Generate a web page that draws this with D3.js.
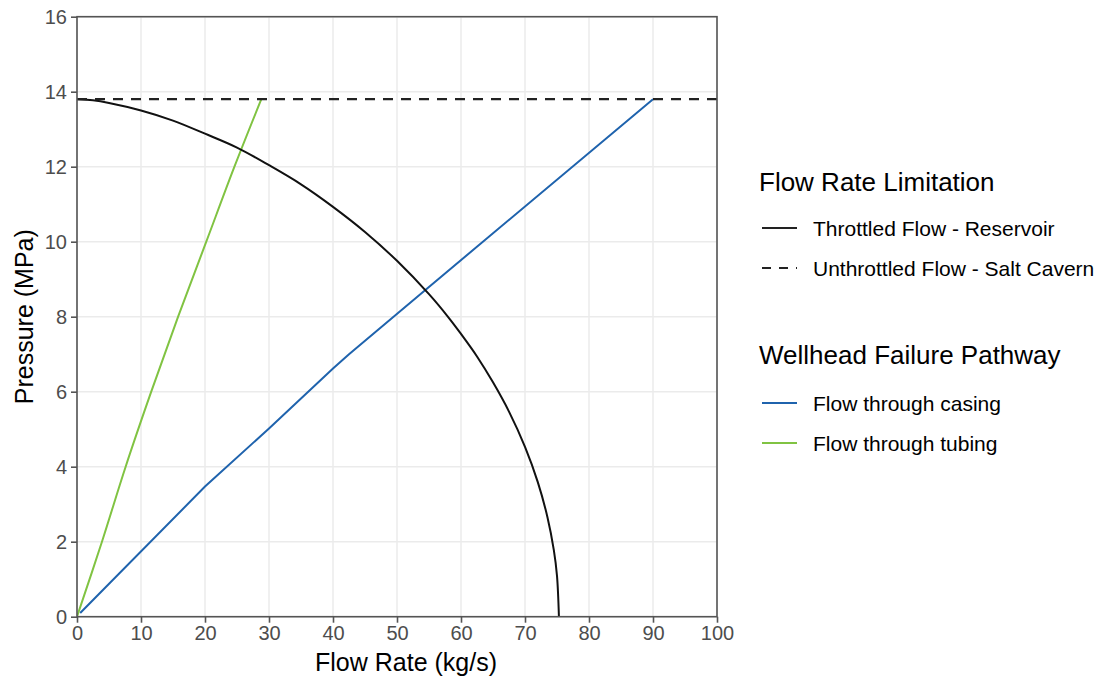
<!DOCTYPE html>
<html>
<head>
<meta charset="utf-8">
<script src="https://cdn.jsdelivr.net/npm/d3@7"></script>
<style>
  body { margin: 0; background: #fff; }
  svg { display: block; font-family: "Liberation Sans", Arial, sans-serif; }
</style>
</head>
<body>
<svg id="chart" width="1100" height="681"></svg>
<script>
// Throttled (reservoir-limited) deliverability curve: [flow kg/s, pressure MPa]
const throttled = [
  [0, 13.8], [2.5, 13.77], [5, 13.7], [10, 13.5], [15, 13.23], [20, 12.88], [25, 12.51],
  [30, 12.04], [35, 11.53], [40, 10.93], [45, 10.26], [50, 9.49], [55, 8.6], [58, 7.99],
  [60, 7.54], [62.5, 6.94], [65, 6.25], [67.5, 5.47], [70, 4.53], [72, 3.59], [73.5, 2.66],
  [74.5, 1.78], [75, 1.09], [75.3, 0]
];
// Unthrottled salt cavern pressure (constant)
const cavernPressure = 13.8;
// Wellhead failure pathways: [flow kg/s, pressure MPa]
const casing = [[0.5, 0.1], [20, 3.47], [30, 5.02], [40, 6.62], [42.5, 7.0], [54.2, 8.68], [90, 13.8]];
const tubing = [[0, 0], [3.9, 2], [7.6, 4], [11.6, 6], [15.8, 8], [20.2, 10], [24.6, 12], [28.8, 13.8]];

const xTicks = [0, 10, 20, 30, 40, 50, 60, 70, 80, 90, 100];
const yTicks = [0, 2, 4, 6, 8, 10, 12, 14, 16];

const limitLegend = ["Throttled Flow - Reservoir", "Unthrottled Flow - Salt Cavern"];
const pathwayLegend = ["Flow through casing", "Flow through tubing"];

const colBlue = "#1f63ad", colGreen = "#80c342";
const font = '"Liberation Sans", Arial, sans-serif';

const svg = d3.select("#chart");
const m = { left: 77, top: 16.7, right: 717, bottom: 616.7 };

const x = d3.scaleLinear().domain([0, 100]).range([m.left, m.right]);
const y = d3.scaleLinear().domain([0, 16]).range([m.bottom, m.top]);

// grid
const g = svg.append("g");
g.selectAll(".vg").data(xTicks).join("line")
  .attr("x1", d => x(d)).attr("x2", d => x(d))
  .attr("y1", m.top).attr("y2", m.bottom)
  .attr("stroke", "#ebebeb").attr("stroke-width", 1.5);
g.selectAll(".hg").data(yTicks).join("line")
  .attr("y1", d => y(d)).attr("y2", d => y(d))
  .attr("x1", m.left).attr("x2", m.right)
  .attr("stroke", "#ebebeb").attr("stroke-width", 1.5);

// axes
const xAxis = svg.append("g").attr("transform", `translate(0,${m.bottom})`)
  .call(d3.axisBottom(x).tickValues(xTicks).tickSize(6).tickPadding(3));
const yAxis = svg.append("g").attr("transform", `translate(${m.left},0)`)
  .call(d3.axisLeft(y).tickValues(yTicks).tickSize(6).tickPadding(4));
[xAxis, yAxis].forEach(a => {
  a.attr("font-size", null).attr("font-family", null);
  a.select(".domain").remove();
  a.selectAll("line").attr("stroke", "#555").attr("stroke-width", 1.6);
  a.selectAll("text").attr("fill", "#4d4d4d").style("font-size", "20px").style("font-family", font);
});

// data lines
const lineXY = d3.line().x(d => x(d[0])).y(d => y(d[1]));
svg.append("clipPath").attr("id", "clip").append("rect")
  .attr("x", m.left).attr("y", m.top).attr("width", m.right - m.left).attr("height", m.bottom - m.top);
const plot = svg.append("g").attr("clip-path", "url(#clip)");

plot.append("path").datum(casing).attr("d", lineXY)
  .attr("fill", "none").attr("stroke", colBlue).attr("stroke-width", 2);
plot.append("path").datum(tubing).attr("d", lineXY.curve(d3.curveCatmullRom.alpha(0.5)))
  .attr("fill", "none").attr("stroke", colGreen).attr("stroke-width", 2);
plot.append("path").datum(throttled)
  .attr("d", d3.line().x(d => x(d[0])).y(d => y(d[1])).curve(d3.curveCatmullRom.alpha(0.5)))
  .attr("fill", "none").attr("stroke", "#111").attr("stroke-width", 2);
plot.append("line")
  .attr("x1", x(0)).attr("x2", x(100))
  .attr("y1", y(cavernPressure)).attr("y2", y(cavernPressure))
  .attr("stroke", "#222").attr("stroke-width", 2.2).attr("stroke-dasharray", "10,8");

// panel border
svg.append("rect").attr("x", m.left).attr("y", m.top)
  .attr("width", m.right - m.left).attr("height", m.bottom - m.top)
  .attr("fill", "none").attr("stroke", "#555").attr("stroke-width", 1.6);

// axis titles
svg.append("text").attr("x", 406).attr("y", 671)
  .attr("text-anchor", "middle").style("font-size", "25px").attr("fill", "#000")
  .text("Flow Rate (kg/s)");
svg.append("text").attr("transform", `translate(33,${(m.top + m.bottom) / 2}) rotate(-90)`)
  .attr("text-anchor", "middle").style("font-size", "25px").attr("fill", "#000")
  .text("Pressure (MPa)");

// legends
const lg = svg.append("g");
const keyX1 = 762, keyX2 = 797, textX = 813;
lg.append("text").attr("x", 759).attr("y", 191).style("font-size", "26px").text("Flow Rate Limitation");
limitLegend.forEach((t, i) => {
  const yy = 228 + i * 40;
  lg.append("line").attr("x1", keyX1).attr("x2", keyX2).attr("y1", yy).attr("y2", yy)
    .attr("stroke", "#222").attr("stroke-width", 2)
    .attr("stroke-dasharray", i === 1 ? "9,8" : null);
  lg.append("text").attr("x", textX).attr("y", yy + 7.5).style("font-size", "21px").text(t);
});
lg.append("text").attr("x", 759).attr("y", 364).style("font-size", "26px").text("Wellhead Failure Pathway");
pathwayLegend.forEach((t, i) => {
  const yy = 403 + i * 40;
  lg.append("line").attr("x1", keyX1).attr("x2", keyX2).attr("y1", yy).attr("y2", yy)
    .attr("stroke", i === 0 ? colBlue : colGreen).attr("stroke-width", 2);
  lg.append("text").attr("x", textX).attr("y", yy + 7.5).style("font-size", "21px").text(t);
});
</script>
</body>
</html>
